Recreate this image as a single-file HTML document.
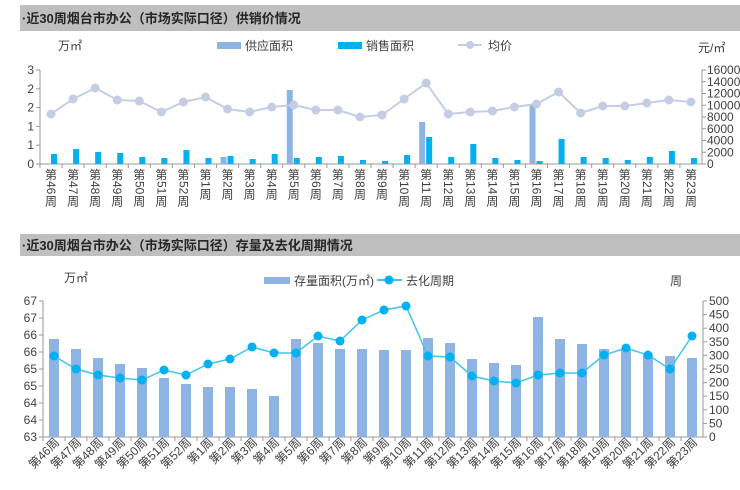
<!DOCTYPE html>
<html><head><meta charset="utf-8"><style>
body{margin:0;background:#fff;width:740px;height:485px;overflow:hidden;font-family:"Liberation Sans","Noto Sans CJK SC",sans-serif}
svg text{font-family:"Liberation Sans","Noto Sans CJK SC",sans-serif;fill:#404040}
</style></head><body>
<svg id="s" width="740" height="485" xmlns="http://www.w3.org/2000/svg"></svg>
<script>
const W=["第46周","第47周","第48周","第49周","第50周","第51周","第52周","第1周","第2周","第3周","第4周","第5周","第6周","第7周","第8周","第9周","第10周","第11周","第12周","第13周","第14周","第15周","第16周","第17周","第18周","第19周","第20周","第21周","第22周","第23周"];
let h='';
h+='<rect x="20" y="5" width="720" height="26" fill="#bfbfbf"/><text x="22" y="23" font-size="13" font-weight="bold" style="fill:#262626">·近30周烟台市办公（市场实际口径）供销价情况</text>';
h+='<text x="58" y="50" font-size="12">万㎡</text>';
h+='<rect x="217" y="42" width="24" height="7" fill="#8db4e2"/><text x="245" y="50" font-size="12">供应面积</text>';
h+='<rect x="338" y="42" width="24" height="7" fill="#00b0f0"/><text x="366" y="50" font-size="12">销售面积</text>';
h+='<line x1="458" y1="45" x2="482" y2="45" stroke="#c5cde4" stroke-width="2"/><circle cx="470" cy="45" r="4" fill="#c5cde4"/><text x="488" y="50" font-size="12">均价</text>';
h+='<text x="698" y="52" font-size="12">元/㎡</text>';
const L1=40,R1=702,T1=70,B1=164,st1=(R1-L1)/30;
h+=`<line x1="${L1}" y1="${T1}" x2="${L1}" y2="${B1}" stroke="#999"/><line x1="${R1}" y1="${T1}" x2="${R1}" y2="${B1}" stroke="#999"/><line x1="${L1}" y1="${B1}" x2="${R1}" y2="${B1}" stroke="#999"/>`;
["3","2","2","1","1","0"].forEach((t,i)=>{let y=T1+i*(B1-T1)/5;h+=`<line x1="${L1-4}" y1="${y}" x2="${L1}" y2="${y}" stroke="#999"/><text x="${L1-6}" y="${y+4}" font-size="12" text-anchor="end">${t}</text>`;});
for(let i=0;i<=8;i++){let y=B1-i*(B1-T1)/8;h+=`<line x1="${R1}" y1="${y}" x2="${R1+4}" y2="${y}" stroke="#999"/><text x="${R1+5}" y="${y+4}" font-size="12">${i*2000}</text>`;}
const sup={8:157,11:90,17:122,22:104};
const sal=[154,149,152,153,157,158,150,158,156,159,154,158,157,156,160,161,155,137,157,144,158,160,161,139,157,158,160,157,151,158];
const pr=[114,99,88,100,101,112,102,97,109,112,107,105,110,110,117,115,99,83,114,112,111,107,104,92,113,106,106,103,100,102];
let pts=[];
for(let i=0;i<30;i++){let c=L1+st1*(i+0.5);
h+=`<line x1="${L1+st1*i}" y1="${B1}" x2="${L1+st1*i}" y2="${B1+4}" stroke="#999"/>`;
if(sup[i])h+=`<rect x="${c-7}" y="${sup[i]}" width="6" height="${B1-sup[i]}" fill="#8db4e2"/>`;
h+=`<rect x="${c}" y="${sal[i]}" width="6" height="${B1-sal[i]}" fill="#00b0f0"/>`;
pts.push(c+','+pr[i]);
const num=W[i].slice(1,-1);const nl=num.length*6.7;let y0=168;
h+=`<text x="${c}" y="${y0+11}" font-size="12" text-anchor="middle">第</text>`;
h+=`<text transform="translate(${c-4},${y0+13}) rotate(90)" font-size="12">${num}</text>`;
h+=`<text x="${c}" y="${y0+13+nl+11}" font-size="12" text-anchor="middle">周</text>`;}
h+=`<polyline points="${pts.join(' ')}" fill="none" stroke="#c5cde4" stroke-width="2"/>`;
pts.forEach(p=>{let [x,y]=p.split(',');h+=`<circle cx="${x}" cy="${y}" r="4.5" fill="#c5cde4"/>`;});
h+='<rect x="20" y="234" width="720" height="22" fill="#bfbfbf"/><text x="22" y="250" font-size="13" font-weight="bold" style="fill:#262626">·近30周烟台市办公（市场实际口径）存量及去化周期情况</text>';
h+='<text x="64" y="282" font-size="12">万㎡</text>';
h+='<rect x="264" y="277" width="26" height="7" fill="#8db4e2"/><text x="294" y="285" font-size="12">存量面积(万㎡)</text>';
h+='<line x1="377" y1="280" x2="402" y2="280" stroke="#00b0f0" stroke-width="1.5"/><circle cx="389" cy="280" r="4.5" fill="#00b0f0"/><text x="406" y="285" font-size="12">去化周期</text>';
h+='<text x="670" y="285" font-size="12">周</text>';
const L2=43,R2=703,T2=301,B2=437,st2=(R2-L2)/30;
h+=`<line x1="${L2}" y1="${T2}" x2="${L2}" y2="${B2}" stroke="#999"/><line x1="${R2}" y1="${T2}" x2="${R2}" y2="${B2}" stroke="#999"/><line x1="${L2}" y1="${B2}" x2="${R2}" y2="${B2}" stroke="#999"/>`;
["67","67","66","66","65","65","64","64","63"].forEach((t,i)=>{let y=T2+i*(B2-T2)/8;h+=`<line x1="${L2-4}" y1="${y}" x2="${L2}" y2="${y}" stroke="#999"/><text x="${L2-6}" y="${y+4}" font-size="12" text-anchor="end">${t}</text>`;});
for(let i=0;i<=10;i++){let y=B2-i*(B2-T2)/10;h+=`<line x1="${R2}" y1="${y}" x2="${R2+4}" y2="${y}" stroke="#999"/><text x="${R2+6}" y="${y+4}" font-size="12">${i*50}</text>`;}
const bt=[339,349,358,364,368,378,384,387,387,389,396,339,343,349,349,350,350,338,343,359,363,365,317,339,344,349,350,355,356,358];
const ln=[356,369,375,378,380,370,375,364,359,347,353,353,336,341,320,310,306,356,357,376,381,383,375,373,373,355,348,355,369,336];
let p2=[];
for(let i=0;i<30;i++){let c=L2+st2*(i+0.5);
h+=`<line x1="${L2+st2*i}" y1="${B2}" x2="${L2+st2*i}" y2="${B2+4}" stroke="#999"/>`;
h+=`<rect x="${c-5}" y="${bt[i]}" width="10" height="${B2-bt[i]}" fill="#8db4e2"/>`;
p2.push(c+','+ln[i]);
h+=`<text transform="translate(${c+6},${B2+6}) rotate(-45)" font-size="12" text-anchor="end">${W[i]}</text>`;}
h+=`<polyline points="${p2.join(' ')}" fill="none" stroke="#3fc3f2" stroke-width="1.5"/>`;
p2.forEach(p=>{let [x,y]=p.split(',');h+=`<circle cx="${x}" cy="${y}" r="4.5" fill="#00b0f0"/>`;});
document.getElementById('s').innerHTML=h;
</script>
</body></html>
